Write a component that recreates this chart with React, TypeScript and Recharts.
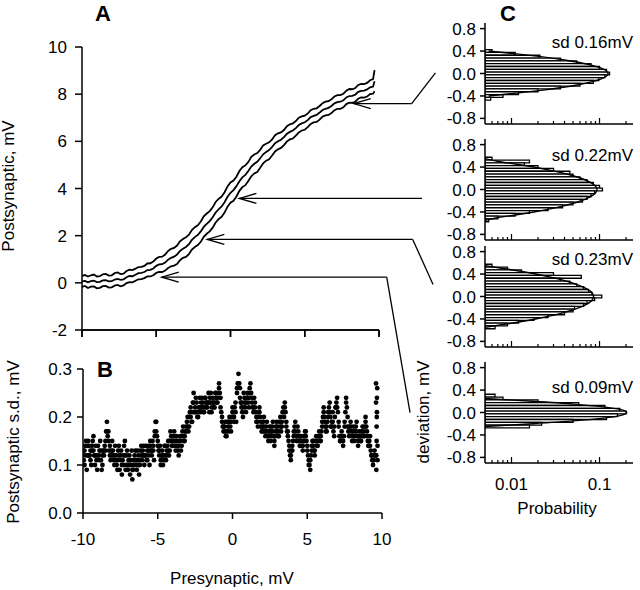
import React from "react";
import {
  Bar,
  ComposedChart,
  Line,
  ReferenceLine,
  Scatter,
  ScatterChart,
  XAxis,
  YAxis,
} from "recharts";

const FONT = '"Liberation Sans", Arial, Helvetica, sans-serif';
const INK = "#000";

// Panel A: postsynaptic vs presynaptic voltage, mean and envelope
const preV = [
  -10, -9.8, -9.6, -9.4, -9.2, -9, -8.8, -8.6, -8.4, -8.2,
  -8, -7.8, -7.6, -7.4, -7.2, -7, -6.8, -6.6, -6.4, -6.2,
  -6, -5.8, -5.6, -5.4, -5.2, -5, -4.8, -4.6, -4.4, -4.2,
  -4, -3.8, -3.6, -3.4, -3.2, -3, -2.8, -2.6, -2.4, -2.2,
  -2, -1.8, -1.6, -1.4, -1.2, -1, -0.8, -0.6, -0.4, -0.2,
  0, 0.2, 0.4, 0.6, 0.8, 1, 1.2, 1.4, 1.6, 1.8,
  2, 2.2, 2.4, 2.6, 2.8, 3, 3.2, 3.4, 3.6, 3.8,
  4, 4.2, 4.4, 4.6, 4.8, 5, 5.2, 5.4, 5.6, 5.8,
  6, 6.2, 6.4, 6.6, 6.8, 7, 7.2, 7.4, 7.6, 7.8,
  8, 8.2, 8.4, 8.6, 8.8, 9, 9.2, 9.4, 9.6, 9.7,
];
const postMid = [
  0.06, 0.08, 0.02, 0.07, 0.09, 0.03, 0.04, 0.1, 0.11, 0.06,
  0.07, 0.14, 0.17, 0.13, 0.15, 0.24, 0.29, 0.28, 0.34, 0.41,
  0.42, 0.46, 0.54, 0.55, 0.61, 0.72, 0.78, 0.79, 0.86, 0.98,
  1.06, 1.11, 1.2, 1.35, 1.45, 1.52, 1.64, 1.82, 1.94, 2.03,
  2.18, 2.37, 2.5, 2.62, 2.78, 2.98, 3.12, 3.24, 3.42, 3.65,
  3.82, 3.93, 4.1, 4.31, 4.47, 4.58, 4.74, 4.93, 5.05, 5.13,
  5.28, 5.45, 5.55, 5.63, 5.76, 5.92, 6.0, 6.07, 6.18, 6.32,
  6.4, 6.46, 6.56, 6.69, 6.76, 6.81, 6.9, 7.03, 7.08, 7.12,
  7.22, 7.33, 7.38, 7.42, 7.5, 7.61, 7.66, 7.68, 7.74, 7.86,
  7.92, 7.93, 7.98, 8.1, 8.14, 8.15, 8.2, 8.29, 8.32, 8.55,
];
const postUpper = [
  0.3, 0.33, 0.27, 0.32, 0.35, 0.27, 0.28, 0.36, 0.38, 0.31,
  0.32, 0.41, 0.44, 0.37, 0.39, 0.5, 0.56, 0.54, 0.6, 0.67,
  0.68, 0.72, 0.82, 0.83, 0.9, 1.03, 1.1, 1.11, 1.2, 1.35,
  1.44, 1.48, 1.58, 1.76, 1.86, 1.93, 2.04, 2.24, 2.36, 2.44,
  2.6, 2.82, 2.94, 3.04, 3.2, 3.43, 3.56, 3.66, 3.84, 4.09,
  4.26, 4.34, 4.5, 4.74, 4.9, 4.98, 5.12, 5.34, 5.44, 5.5,
  5.64, 5.83, 5.9, 5.96, 6.08, 6.26, 6.34, 6.38, 6.48, 6.64,
  6.72, 6.76, 6.86, 7.0, 7.06, 7.09, 7.18, 7.32, 7.38, 7.4,
  7.5, 7.62, 7.68, 7.7, 7.78, 7.9, 7.96, 7.96, 8.02, 8.15,
  8.22, 8.21, 8.26, 8.39, 8.44, 8.43, 8.48, 8.59, 8.64, 9.02,
];
const postLower = [
  -0.17, -0.13, -0.22, -0.16, -0.15, -0.23, -0.21, -0.14, -0.13, -0.2,
  -0.19, -0.12, -0.09, -0.15, -0.11, -0.01, 0.03, 0.02, 0.09, 0.15,
  0.16, 0.2, 0.27, 0.27, 0.32, 0.42, 0.46, 0.46, 0.52, 0.63,
  0.7, 0.73, 0.8, 0.96, 1.06, 1.1, 1.22, 1.41, 1.52, 1.6,
  1.74, 1.95, 2.08, 2.18, 2.34, 2.56, 2.7, 2.8, 2.98, 3.23,
  3.4, 3.48, 3.66, 3.9, 4.06, 4.14, 4.32, 4.52, 4.64, 4.7,
  4.88, 5.07, 5.18, 5.24, 5.4, 5.57, 5.66, 5.72, 5.84, 6.0,
  6.08, 6.12, 6.24, 6.38, 6.46, 6.49, 6.6, 6.74, 6.8, 6.82,
  6.92, 7.05, 7.1, 7.12, 7.2, 7.32, 7.38, 7.38, 7.44, 7.58,
  7.64, 7.63, 7.68, 7.81, 7.86, 7.85, 7.9, 8.0, 8.02, 8.12,
];

// arrows from panel A into panel C, in panel A data units
const arrows = [
  { tip: [8.3, 7.6], bend: [12.2, 7.6], end: [13.8, 8.9] },
  { tip: [0.6, 3.58], bend: null, end: [12.9, 3.58] },
  { tip: [-1.56, 1.84], bend: [12.27, 1.84], end: [13.64, -0.07] },
  { tip: [-4.63, 0.24], bend: [10.52, 0.24], end: [12.09, -5.5] },
];

// Panel B: postsynaptic s.d. vs presynaptic voltage
const sdX = [
  -10, -9.9, -9.8, -9.7, -9.6, -9.5, -9.4, -9.3, -9.2, -9.1,
  -9, -8.9, -8.8, -8.7, -8.6, -8.5, -8.4, -8.3, -8.2, -8.1,
  -8, -7.9, -7.8, -7.7, -7.6, -7.5, -7.4, -7.3, -7.2, -7.1,
  -7, -6.9, -6.8, -6.7, -6.6, -6.5, -6.4, -6.3, -6.2, -6.1,
  -6, -5.9, -5.8, -5.7, -5.6, -5.5, -5.4, -5.3, -5.2, -5.1,
  -5, -4.9, -4.8, -4.7, -4.6, -4.5, -4.4, -4.3, -4.2, -4.1,
  -4, -3.9, -3.8, -3.7, -3.6, -3.5, -3.4, -3.3, -3.2, -3.1,
  -3, -2.9, -2.8, -2.7, -2.6, -2.5, -2.4, -2.3, -2.2, -2.1,
  -2, -1.9, -1.8, -1.7, -1.6, -1.5, -1.4, -1.3, -1.2, -1.1,
  -1, -0.9, -0.8, -0.7, -0.6, -0.5, -0.4, -0.3, -0.2, -0.1,
  0, 0.1, 0.2, 0.3, 0.4, 0.5, 0.6, 0.7, 0.8, 0.9,
  1, 1.1, 1.2, 1.3, 1.4, 1.5, 1.6, 1.7, 1.8, 1.9,
  2, 2.1, 2.2, 2.3, 2.4, 2.5, 2.6, 2.7, 2.8, 2.9,
  3, 3.1, 3.2, 3.3, 3.4, 3.5, 3.6, 3.7, 3.8, 3.9,
  4, 4.1, 4.2, 4.3, 4.4, 4.5, 4.6, 4.7, 4.8, 4.9,
  5, 5.1, 5.2, 5.3, 5.4, 5.5, 5.6, 5.7, 5.8, 5.9,
  6, 6.1, 6.2, 6.3, 6.4, 6.5, 6.6, 6.7, 6.8, 6.9,
  7, 7.1, 7.2, 7.3, 7.4, 7.5, 7.6, 7.7, 7.8, 7.9,
  8, 8.1, 8.2, 8.3, 8.4, 8.5, 8.6, 8.7, 8.8, 8.9,
  9, 9.1, 9.2, 9.3, 9.4, 9.5, 9.6, 9.7,
  9.62, 9.62, 9.64, 9.64, 9.66, 9.66, 9.68,
];
const sdY = [
  0.13, 0.1, 0.15, 0.12, 0.14, 0.11, 0.13, 0.16, 0.1, 0.12,
  0.14, 0.11, 0.13, 0.1, 0.12, 0.15, 0.19, 0.17, 0.14, 0.12,
  0.13, 0.1, 0.12, 0.09, 0.14, 0.11, 0.08, 0.12, 0.15, 0.1,
  0.09, 0.12, 0.1, 0.07, 0.11, 0.13, 0.09, 0.12, 0.1, 0.14,
  0.12, 0.1, 0.14, 0.11, 0.13, 0.15, 0.12, 0.14, 0.17, 0.19,
  0.15, 0.12, 0.1, 0.13, 0.11, 0.14, 0.12, 0.15, 0.13, 0.16,
  0.14, 0.17, 0.13, 0.15, 0.12, 0.16, 0.14, 0.18, 0.15, 0.17,
  0.2, 0.18, 0.22, 0.19, 0.25, 0.21, 0.23, 0.2, 0.24, 0.22,
  0.23, 0.21, 0.24, 0.22, 0.25, 0.23, 0.21, 0.24, 0.22, 0.25,
  0.23, 0.27, 0.24, 0.2, 0.17, 0.19, 0.16, 0.18, 0.2, 0.17,
  0.22, 0.19, 0.21, 0.25, 0.29, 0.26, 0.23, 0.2, 0.24, 0.21,
  0.25, 0.22, 0.27, 0.24, 0.21, 0.23, 0.2, 0.18, 0.22, 0.19,
  0.17, 0.2, 0.16, 0.19, 0.15, 0.18, 0.16, 0.19, 0.14, 0.17,
  0.18, 0.16, 0.2, 0.18, 0.22, 0.23, 0.19, 0.17, 0.14, 0.11,
  0.13, 0.16, 0.19, 0.15, 0.17, 0.14, 0.16, 0.13, 0.15, 0.17,
  0.14, 0.11, 0.09, 0.13, 0.15, 0.12, 0.16, 0.14, 0.17, 0.15,
  0.18, 0.22, 0.19, 0.17, 0.2, 0.23, 0.18, 0.21, 0.16, 0.22,
  0.24, 0.19, 0.15, 0.17, 0.14, 0.18, 0.24, 0.2, 0.16, 0.19,
  0.15, 0.18, 0.16, 0.19, 0.14, 0.17, 0.15, 0.18, 0.16, 0.2,
  0.17, 0.14, 0.16, 0.12, 0.1, 0.13, 0.27, 0.11,
  0.09, 0.12, 0.15, 0.18, 0.21, 0.24, 0.26,
];
// second pass of samples, between the first ones
const sdX2 = [
  -9.95, -9.85, -9.75, -9.65, -9.55, -9.45, -9.35, -9.25, -9.15, -9.05,
  -8.95, -8.85, -8.75, -8.65, -8.55, -8.45, -8.35, -8.25, -8.15, -8.05,
  -7.95, -7.85, -7.75, -7.65, -7.55, -7.45, -7.35, -7.25, -7.15, -7.05,
  -6.95, -6.85, -6.75, -6.65, -6.55, -6.45, -6.35, -6.25, -6.15, -6.05,
  -5.95, -5.85, -5.75, -5.65, -5.55, -5.45, -5.35, -5.25, -5.15, -5.05,
  -4.95, -4.85, -4.75, -4.65, -4.55, -4.45, -4.35, -4.25, -4.15, -4.05,
  -3.95, -3.85, -3.75, -3.65, -3.55, -3.45, -3.35, -3.25, -3.15, -3.05,
  -2.95, -2.85, -2.75, -2.65, -2.55, -2.45, -2.35, -2.25, -2.15, -2.05,
  -1.95, -1.85, -1.75, -1.65, -1.55, -1.45, -1.35, -1.25, -1.15, -1.05,
  -0.95, -0.85, -0.75, -0.65, -0.55, -0.45, -0.35, -0.25, -0.15, -0.05,
  0.05, 0.15, 0.25, 0.35, 0.45, 0.55, 0.65, 0.75, 0.85, 0.95,
  1.05, 1.15, 1.25, 1.35, 1.45, 1.55, 1.65, 1.75, 1.85, 1.95,
  2.05, 2.15, 2.25, 2.35, 2.45, 2.55, 2.65, 2.75, 2.85, 2.95,
  3.05, 3.15, 3.25, 3.35, 3.45, 3.55, 3.65, 3.75, 3.85, 3.95,
  4.05, 4.15, 4.25, 4.35, 4.45, 4.55, 4.65, 4.75, 4.85, 4.95,
  5.05, 5.15, 5.25, 5.35, 5.45, 5.55, 5.65, 5.75, 5.85, 5.95,
  6.05, 6.15, 6.25, 6.35, 6.45, 6.55, 6.65, 6.75, 6.85, 6.95,
  7.05, 7.15, 7.25, 7.35, 7.45, 7.55, 7.65, 7.75, 7.85, 7.95,
  8.05, 8.15, 8.25, 8.35, 8.45, 8.55, 8.65, 8.75, 8.85, 8.95,
  9.05, 9.15, 9.25, 9.35, 9.45, 9.55, 9.65,
];
const sdY2 = [
  0.11, 0.14, 0.09, 0.15, 0.12, 0.1, 0.15, 0.12, 0.14, 0.09,
  0.12, 0.15, 0.09, 0.13, 0.14, 0.17, 0.16, 0.13, 0.11, 0.15,
  0.11, 0.14, 0.1, 0.13, 0.09, 0.13, 0.11, 0.14, 0.09, 0.13,
  0.11, 0.08, 0.13, 0.09, 0.12, 0.1, 0.13, 0.08, 0.13, 0.11,
  0.14, 0.12, 0.11, 0.14, 0.1, 0.13, 0.15, 0.11, 0.19, 0.16,
  0.13, 0.14, 0.12, 0.1, 0.14, 0.11, 0.14, 0.12, 0.17, 0.14,
  0.16, 0.14, 0.16, 0.13, 0.15, 0.13, 0.17, 0.15, 0.17, 0.19,
  0.17, 0.21, 0.19, 0.23, 0.21, 0.24, 0.2, 0.22, 0.21, 0.24,
  0.21, 0.24, 0.22, 0.23, 0.21, 0.25, 0.23, 0.22, 0.25, 0.23,
  0.25, 0.25, 0.21, 0.18, 0.18, 0.16, 0.19, 0.17, 0.18, 0.2,
  0.2, 0.22, 0.19, 0.27, 0.27, 0.23, 0.21, 0.25, 0.22, 0.24,
  0.23, 0.26, 0.25, 0.22, 0.24, 0.21, 0.19, 0.21, 0.2, 0.17,
  0.19, 0.17, 0.18, 0.16, 0.17, 0.15, 0.18, 0.16, 0.16, 0.19,
  0.16, 0.19, 0.17, 0.21, 0.2, 0.21, 0.17, 0.15, 0.12, 0.13,
  0.15, 0.18, 0.16, 0.18, 0.15, 0.16, 0.14, 0.15, 0.17, 0.15,
  0.12, 0.1, 0.12, 0.15, 0.13, 0.15, 0.14, 0.16, 0.15, 0.17,
  0.2, 0.2, 0.17, 0.19, 0.22, 0.2, 0.19, 0.17, 0.2, 0.23,
  0.21, 0.16, 0.16, 0.15, 0.16, 0.21, 0.22, 0.17, 0.18, 0.17,
  0.17, 0.15, 0.18, 0.16, 0.16, 0.15, 0.17, 0.16, 0.18, 0.18,
  0.15, 0.15, 0.13, 0.11, 0.11, 0.12, 0.2,
];
// third pass, cluster centres, at the sdX positions
const sdY3 = [
  0.12, 0.13, 0.12, 0.14, 0.12, 0.13, 0.14, 0.13, 0.12, 0.11,
  0.12, 0.13, 0.11, 0.12, 0.13, 0.13, 0.17, 0.15, 0.12, 0.13,
  0.12, 0.12, 0.11, 0.11, 0.12, 0.12, 0.1, 0.1, 0.12, 0.12,
  0.1, 0.1, 0.11, 0.09, 0.1, 0.11, 0.11, 0.1, 0.11, 0.12,
  0.13, 0.12, 0.12, 0.13, 0.12, 0.14, 0.13, 0.13, 0.16, 0.17,
  0.14, 0.13, 0.11, 0.12, 0.12, 0.12, 0.13, 0.13, 0.15, 0.15,
  0.15, 0.15, 0.15, 0.14, 0.14, 0.15, 0.16, 0.16, 0.16, 0.18,
  0.18, 0.2, 0.2, 0.21, 0.23, 0.22, 0.21, 0.21, 0.22, 0.23,
  0.22, 0.22, 0.23, 0.23, 0.23, 0.24, 0.22, 0.23, 0.23, 0.24,
  0.24, 0.26, 0.22, 0.19, 0.18, 0.17, 0.17, 0.19, 0.19, 0.19,
  0.21, 0.2, 0.23, 0.26, 0.27, 0.24, 0.22, 0.22, 0.23, 0.23,
  0.24, 0.24, 0.25, 0.23, 0.22, 0.22, 0.19, 0.2, 0.21, 0.18,
  0.18, 0.18, 0.17, 0.17, 0.16, 0.17, 0.17, 0.17, 0.15, 0.18,
  0.17, 0.17, 0.18, 0.19, 0.21, 0.22, 0.18, 0.16, 0.13, 0.12,
  0.14, 0.17, 0.17, 0.16, 0.16, 0.15, 0.15, 0.14, 0.16, 0.16,
  0.13, 0.1, 0.11, 0.14, 0.14, 0.13, 0.15, 0.15, 0.16, 0.16,
  0.19, 0.21, 0.18, 0.18, 0.21, 0.21, 0.18, 0.19, 0.18, 0.22,
  0.22, 0.18, 0.15, 0.16, 0.15, 0.19, 0.23, 0.18, 0.17, 0.18,
  0.16, 0.16, 0.17, 0.17, 0.15, 0.16, 0.16, 0.17, 0.17, 0.19,
  0.16, 0.14, 0.14, 0.12, 0.11, 0.12, 0.23, 0.14,
];

// Panel C: deviation histograms (probability, log scale) with gaussian fits
const devBins = [
  0.6, 0.55, 0.5, 0.45, 0.4, 0.35, 0.3, 0.25, 0.2, 0.15, 0.1, 0.05, 0, -0.05,
  -0.1, -0.15, -0.2, -0.25, -0.3, -0.35, -0.4, -0.45, -0.5, -0.55, -0.6,
];
const hist1 = [
  null, null, null, null, 0.006, 0.011, 0.021, 0.036, 0.055, 0.08, 0.1, 0.12,
  0.13, 0.115, 0.098, 0.085, 0.06, 0.036, 0.02, 0.012, 0.008, 0.0058, null, null, null,
];
const fit1 = [
  null, null, null, null, 0.0055, 0.0114, 0.0216, 0.0369, 0.0573, 0.0806, 0.103,
  0.119, 0.125, 0.119, 0.103, 0.0806, 0.0573, 0.0369, 0.0216, 0.0114, 0.0055,
  null, null, null, null,
];
const hist2 = [
  null, 0.006, 0.016, 0.014, 0.02, 0.03, 0.046, 0.05, 0.06, 0.072, 0.085, 0.1,
  0.108, 0.088, 0.08, 0.072, 0.064, 0.05, 0.038, 0.026, 0.016, 0.011, 0.007, 0.0055, null,
];
const fit2 = [
  null, 0.005, 0.0071, 0.0115, 0.0179, 0.0264, 0.0369, 0.049, 0.0618, 0.074,
  0.0842, 0.091, 0.0934, 0.091, 0.0842, 0.074, 0.0618, 0.049, 0.0369, 0.0264,
  0.0179, 0.0115, 0.0071, 0.005, null,
];
const hist3 = [
  null, 0.006, 0.009, 0.013, 0.03, 0.062, 0.036, 0.046, 0.055, 0.066, 0.075,
  0.082, 0.106, 0.088, 0.072, 0.066, 0.052, 0.05, 0.04, 0.026, 0.018, 0.012, 0.009, 0.0065, null,
];
const fit3 = [
  null, 0.005, 0.008, 0.0126, 0.0188, 0.0269, 0.0365, 0.0474, 0.0586, 0.0691,
  0.0778, 0.0835, 0.0855, 0.0835, 0.0778, 0.0691, 0.0586, 0.0474, 0.0365, 0.0269,
  0.0188, 0.0126, 0.008, 0.005, null,
];
const hist4 = [
  null, null, null, null, null, null, 0.0065, 0.008, 0.02, 0.058, 0.115, 0.17,
  0.2, 0.16, 0.12, 0.05, 0.022, 0.016, null, null, null, null, null, null, null,
];
const fit4 = [
  null, null, null, null, null, null, null, 0.005, 0.0173, 0.0509, 0.11, 0.175,
  0.204, 0.175, 0.11, 0.0509, 0.0173, 0.005, null, null, null, null, null, null, null,
];
const sdLabels = ["sd 0.16mV", "sd 0.22mV", "sd 0.23mV", "sd 0.09mV"];

const probTicks = [
  0.006, 0.007, 0.008, 0.009, 0.01, 0.02, 0.03, 0.04, 0.05, 0.06, 0.07, 0.08,
  0.09, 0.1, 0.2,
];
const devTicks = [-0.8, -0.4, 0, 0.4, 0.8];
const preTicks = [-10, -5, 0, 5, 10];

// page layout of the four histogram panels (plot top, sd label baseline)
const panels = [
  { top: 22.5, hist: hist1, fit: fit1, sdY: 48 },
  { top: 138.5, hist: hist2, fit: fit2, sdY: 161 },
  { top: 246, hist: hist3, fit: fit3, sdY: 265 },
  { top: 362, hist: hist4, fit: fit4, sdY: 393 },
];

const tickText = { fill: INK, fontSize: 17, fontFamily: FONT };
const axisLine = { stroke: INK, strokeWidth: 1.5 };
const noDot = () => <g />;

const arrowShape = (head: boolean) => (p: any) => {
  const { x1, y1, x2, y2 } = p;
  const len = Math.hypot(x2 - x1, y2 - y1) || 1;
  const ux = (x2 - x1) / len;
  const uy = (y2 - y1) / len;
  const L = 17;
  const W = 5;
  const d = `M${x1 + ux * L - uy * W},${y1 + uy * L + ux * W}L${x1},${y1}L${
    x1 + ux * L + uy * W
  },${y1 + uy * L - ux * W}`;
  return (
    <g>
      <line x1={x1} y1={y1} x2={x2} y2={y2} stroke={INK} strokeWidth={1.3} />
      {head && <path d={d} fill="none" stroke={INK} strokeWidth={1.3} />}
    </g>
  );
};

// short downward mark below a point: panel A's unlabeled x ticks
const downTick = (p: any) => (
  <line x1={p.cx} y1={p.cy} x2={p.cx} y2={p.cy + 7} stroke={INK} strokeWidth={1.5} />
);

function ProbTick({ x, y, payload, showLabel }: any) {
  const v = payload.value;
  const major = v === 0.01 || v === 0.1;
  return (
    <g>
      <line x1={x} x2={x} y1={y} y2={y - (major ? 6 : 3)} stroke={INK} strokeWidth={1.2} />
      {showLabel && major && (
        <text x={x} y={y + 27} textAnchor="middle" fontSize={17} fontFamily={FONT} fill={INK}>
          {v === 0.01 ? "0.01" : "0.1"}
        </text>
      )}
    </g>
  );
}

function HistPanel({ top, hist, fit, bottom }: any) {
  const rows = devBins.map((dev, i) => ({ dev, p: hist[i], fit: fit[i] }));
  const xh = bottom ? 55 : 5;
  return (
    <div style={{ position: "absolute", left: 420, top: top - 10 }}>
      <ComposedChart
        layout="vertical"
        width={220}
        height={10 + 101 + xh}
        data={rows}
        margin={{ top: 10, right: 7, bottom: 0, left: 0 }}
      >
        <XAxis
          type="number"
          scale="log"
          domain={[0.005, 0.24]}
          allowDataOverflow
          ticks={probTicks}
          interval={0}
          tickSize={0}
          tickMargin={0}
          tickLine={false}
          axisLine={axisLine}
          height={xh}
          tick={(props: any) => <ProbTick {...props} showLabel={bottom} />}
        />
        <YAxis
          type="number"
          dataKey="dev"
          domain={[-0.9, 0.9]}
          reversed
          allowDataOverflow
          ticks={devTicks}
          interval={0}
          tickFormatter={(v: number) => v.toFixed(1)}
          width={65}
          tickSize={5}
          tickMargin={4}
          tick={tickText}
          tickLine={axisLine}
          axisLine={axisLine}
        />
        <Bar
          dataKey="p"
          barSize={2.8}
          fill="#fff"
          stroke={INK}
          strokeWidth={1.3}
          isAnimationActive={false}
        />
        <Line
          dataKey="fit"
          type="monotone"
          stroke={INK}
          strokeWidth={1.4}
          dot={false}
          isAnimationActive={false}
        />
      </ComposedChart>
    </div>
  );
}

export default function App() {
  const traces = [postUpper, postMid, postLower].map((ys) =>
    preV.map((x, i) => ({ x, y: ys[i] }))
  );
  const tickMarks = preTicks.map((x) => ({ x, y: -2 }));
  const axisAnchors = preTicks.map((x) => ({ x, y: 0.5 }));
  const pointsB = [
    ...sdX.map((x, i) => ({ x, y: sdY[i] })),
    ...sdX2.map((x, i) => ({ x, y: sdY2[i] })),
    ...sdY3.map((y, i) => ({ x: sdX[i], y })),
  ];
  const segments = arrows.flatMap((a) =>
    a.bend
      ? [
          { from: a.tip, to: a.bend, head: true },
          { from: a.bend, to: a.end, head: false },
        ]
      : [{ from: a.tip, to: a.end, head: true }]
  );

  return (
    <div
      style={{
        position: "absolute",
        left: 0,
        top: 0,
        width: 640,
        height: 590,
        background: "#fff",
        fontFamily: FONT,
      }}
    >
      <div style={{ position: "absolute", left: 0, top: 340 }}>
        <ScatterChart
          width={400}
          height={250}
          margin={{ top: 29, right: 18, bottom: 37, left: 0 }}
        >
          <XAxis
            type="number"
            dataKey="x"
            domain={[-10, 10]}
            allowDataOverflow
            ticks={preTicks}
            interval={0}
            height={40}
            tickSize={6}
            tickMargin={14}
            tick={tickText}
            tickLine={axisLine}
            axisLine={axisLine}
          />
          <YAxis
            type="number"
            dataKey="y"
            domain={[0, 0.3]}
            allowDataOverflow
            ticks={[0, 0.1, 0.2, 0.3]}
            interval={0}
            tickFormatter={(v: number) => v.toFixed(1)}
            width={83}
            tickSize={6}
            tickMargin={5}
            tick={tickText}
            tickLine={axisLine}
            axisLine={axisLine}
          />
          <Scatter
            data={pointsB}
            isAnimationActive={false}
            shape={(p: any) => <circle cx={p.cx} cy={p.cy} r={2.4} fill={INK} />}
          />
        </ScatterChart>
      </div>

      {panels.map((p, i) => (
        <HistPanel key={i} top={p.top} hist={p.hist} fit={p.fit} bottom={i === 3} />
      ))}

      {/* panel A's x axis, drawn as its own strip in the same layout as panel B's */}
      <div style={{ position: "absolute", left: 0, top: 300, zIndex: 1 }}>
        <ScatterChart
          width={400}
          height={60}
          margin={{ top: 0, right: 21, bottom: 0, left: 82 }}
        >
          <XAxis
            type="number"
            dataKey="x"
            domain={[-10, 10]}
            allowDataOverflow
            ticks={preTicks}
            interval={0}
            height={30}
            tickSize={7}
            tickMargin={4}
            tick={{ fill: "none", fontSize: 10 }}
            tickLine={axisLine}
            axisLine={axisLine}
          />
          <YAxis type="number" dataKey="y" domain={[0, 1]} hide />
          <Scatter data={axisAnchors} shape={noDot} isAnimationActive={false} />
        </ScatterChart>
      </div>

      {/* panel A last and on top: its arrows reach over the other panels */}
      <div style={{ position: "absolute", left: 0, top: 0, zIndex: 2 }}>
        <ScatterChart
          width={440}
          height={420}
          margin={{ top: 47, right: 61, bottom: 60, left: 0 }}
        >
          <XAxis
            type="number"
            dataKey="x"
            domain={[-10, 10]}
            ticks={preTicks}
            interval={0}
            tick={false}
            tickLine={false}
            axisLine={axisLine}
            height={30}
          />
          <YAxis
            type="number"
            dataKey="y"
            domain={[-2, 10]}
            ticks={[-2, 0, 2, 4, 6, 8, 10]}
            interval={0}
            width={82}
            tickSize={7}
            tickMargin={8}
            tick={tickText}
            tickLine={axisLine}
            axisLine={axisLine}
          />
          {traces.map((t, i) => (
            <Scatter
              key={i}
              data={t}
              line={{ stroke: INK, strokeWidth: 1.8 }}
              shape={noDot}
              isAnimationActive={false}
            />
          ))}
          <Scatter data={tickMarks} shape={downTick} isAnimationActive={false} />
          {segments.map((s, i) => (
            <ReferenceLine
              key={i}
              segment={[
                { x: s.from[0], y: s.from[1] },
                { x: s.to[0], y: s.to[1] },
              ]}
              ifOverflow="visible"
              shape={arrowShape(s.head)}
            />
          ))}
        </ScatterChart>
      </div>

      <svg
        width={640}
        height={590}
        style={{ position: "absolute", left: 0, top: 0, pointerEvents: "none", zIndex: 3 }}
        fontFamily={FONT}
        fill={INK}
      >
        <text x={95} y={21} fontSize={22} fontWeight="bold">A</text>
        <text x={97} y={377} fontSize={22} fontWeight="bold">B</text>
        <text x={500} y={21} fontSize={22} fontWeight="bold">C</text>
        <text transform="translate(14,186) rotate(-90)" textAnchor="middle" fontSize={17}>
          Postsynaptic, mV
        </text>
        <text transform="translate(19,442) rotate(-90)" textAnchor="middle" fontSize={17}>
          Postsynaptic s.d., mV
        </text>
        <text x={232} y={584} textAnchor="middle" fontSize={17}>
          Presynaptic, mV
        </text>
        <text transform="translate(429,412) rotate(-90)" textAnchor="middle" fontSize={17}>
          deviation, mV
        </text>
        <text x={557} y={514} textAnchor="middle" fontSize={17}>
          Probability
        </text>
        {panels.map((p, i) => (
          <text key={i} x={633} y={p.sdY} textAnchor="end" fontSize={17}>
            {sdLabels[i]}
          </text>
        ))}
      </svg>
    </div>
  );
}
